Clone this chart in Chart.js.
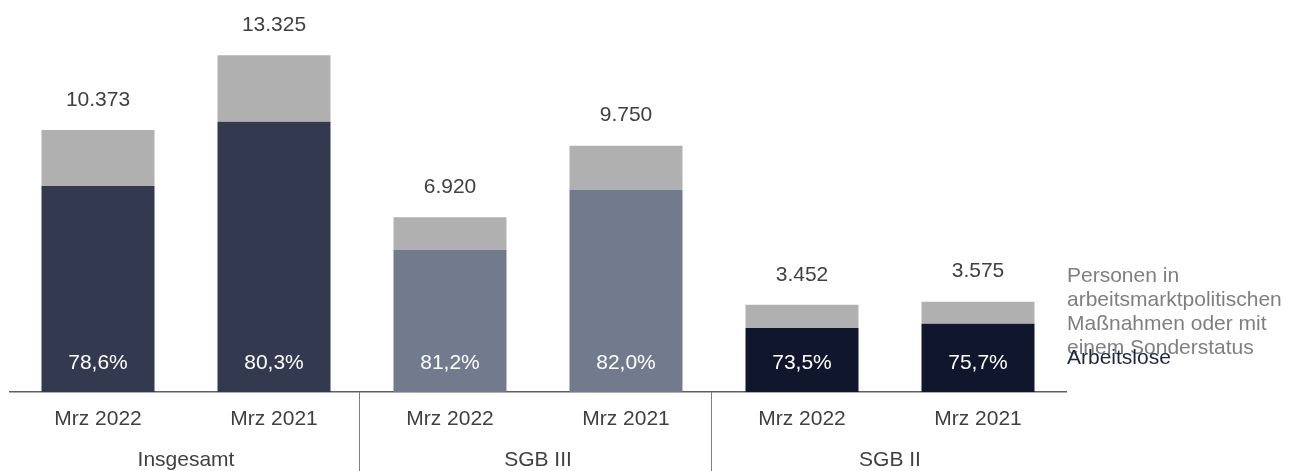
<!DOCTYPE html>
<html lang="de">
<head>
    <meta charset="UTF-8">
    <title>Arbeitslose und Personen in Maßnahmen</title>
    <style>
        body {
            margin: 0;
            background-color: #fff;
        }
        .container {
            position: relative;
            width: 1297px;
            height: 471px;
        }
    </style>
</head>
<body>
    <div class="container">
        <canvas id="unemploymentChart"></canvas>
    </div>

    <script src="https://cdn.jsdelivr.net/npm/chart.js"></script>

    <script>
        // Categories
        const months = ['Mrz 2022', 'Mrz 2021', 'Mrz 2022', 'Mrz 2021', 'Mrz 2022', 'Mrz 2021'];
        const groups = ['Insgesamt', 'SGB III', 'SGB II'];

        // Series
        const arbeitslose = [8153, 10700, 5619, 7995, 2537, 2706];
        const massnahmen = [2220, 2625, 1301, 1755, 915, 869];

        // Labels printed on the bars
        const totalLabels = ['10.373', '13.325', '6.920', '9.750', '3.452', '3.575'];
        const shareLabels = ['78,6%', '80,3%', '81,2%', '82,0%', '73,5%', '75,7%'];

        // Legend texts next to the last bar
        const arbeitsloseLabel = 'Arbeitslose';
        const massnahmenLabel = ['Personen in', 'arbeitsmarktpolitischen', 'Maßnahmen oder mit', 'einem Sonderstatus'];

        const FONT = '"Liberation Sans", Arial, sans-serif';
        const FONT_SIZE = 21;
        const barColors = ['#333a4f', '#333a4f', '#727b8e', '#727b8e', '#10162b', '#10162b'];

        // Draws totals, shares, group separators and the side legend
        const barTextPlugin = {
            id: 'barText',
            afterDatasetsDraw(chart) {
                const ctx = chart.ctx;
                const bottomMeta = chart.getDatasetMeta(0);
                const topMeta = chart.getDatasetMeta(1);
                ctx.save();
                ctx.font = FONT_SIZE + 'px ' + FONT;
                ctx.textAlign = 'center';
                ctx.textBaseline = 'middle';

                topMeta.data.forEach(function(bar, i) {
                    ctx.fillStyle = '#404040';
                    ctx.fillText(totalLabels[i], bar.x, bar.y - 30);
                });
                bottomMeta.data.forEach(function(bar, i) {
                    ctx.fillStyle = '#ffffff';
                    ctx.fillText(shareLabels[i], bar.x, bar.base - 29);
                });

                // legend next to the last bar
                const last = months.length - 1;
                const lastTop = topMeta.data[last];
                const lastBottom = bottomMeta.data[last];
                const legendX = chart.chartArea.right + 1;
                const lineHeight = 24;
                ctx.textAlign = 'left';

                ctx.fillStyle = '#7f7f7f';
                const greyMid = (lastTop.y + lastTop.base) / 2;
                massnahmenLabel.forEach(function(line, j) {
                    const y = greyMid + (j - (massnahmenLabel.length - 1) / 2) * lineHeight;
                    ctx.fillText(line, legendX, y);
                });

                ctx.fillStyle = '#1e2640';
                ctx.fillText(arbeitsloseLabel, legendX, (lastBottom.y + lastBottom.base) / 2);

                // separators between the groups
                const xScale = chart.scales.x;
                ctx.strokeStyle = '#7f7f7f';
                ctx.lineWidth = 1;
                [1, 3].forEach(function(i) {
                    const x = Math.round((xScale.getPixelForValue(i) + xScale.getPixelForValue(i + 1)) / 2) - 2.5;
                    ctx.beginPath();
                    ctx.moveTo(x, chart.chartArea.bottom);
                    ctx.lineTo(x, chart.height);
                    ctx.stroke();
                });
                ctx.restore();
            }
        };

        window.onload = function() {
            const ctx = document.getElementById('unemploymentChart').getContext('2d');
            new Chart(ctx, {
                type: 'bar',
                data: {
                    labels: months,
                    datasets: [{
                        label: arbeitsloseLabel,
                        data: arbeitslose,
                        backgroundColor: barColors,
                        xAxisID: 'x',
                        yAxisID: 'y'
                    }, {
                        label: massnahmenLabel.join(' '),
                        data: massnahmen,
                        backgroundColor: '#b0b0b0',
                        xAxisID: 'x',
                        yAxisID: 'y'
                    }]
                },
                options: {
                    responsive: true,
                    maintainAspectRatio: false,
                    animation: false,
                    barPercentage: 0.642,
                    categoryPercentage: 1.0,
                    layout: {
                        padding: { top: 13, left: 10, right: 231, bottom: -1.4 }
                    },
                    plugins: {
                        legend: { display: false },
                        tooltip: { enabled: false }
                    },
                    scales: {
                        x: {
                            stacked: true,
                            weight: 0,
                            grid: { display: false, drawTicks: false },
                            border: { display: true, color: '#5f5f5f', width: 1.5 },
                            ticks: {
                                padding: 15,
                                color: '#404040',
                                font: { size: FONT_SIZE, family: FONT }
                            }
                        },
                        x2: {
                            type: 'category',
                            position: 'bottom',
                            labels: groups,
                            offset: true,
                            weight: 1,
                            grid: { display: false, drawTicks: false },
                            border: { display: false },
                            ticks: {
                                padding: 0,
                                color: '#404040',
                                font: { size: FONT_SIZE, family: FONT }
                            }
                        },
                        y: {
                            stacked: true,
                            display: false,
                            min: 0,
                            max: 15000
                        }
                    }
                },
                plugins: [barTextPlugin]
            });
        };
    </script>
</body>
</html>
